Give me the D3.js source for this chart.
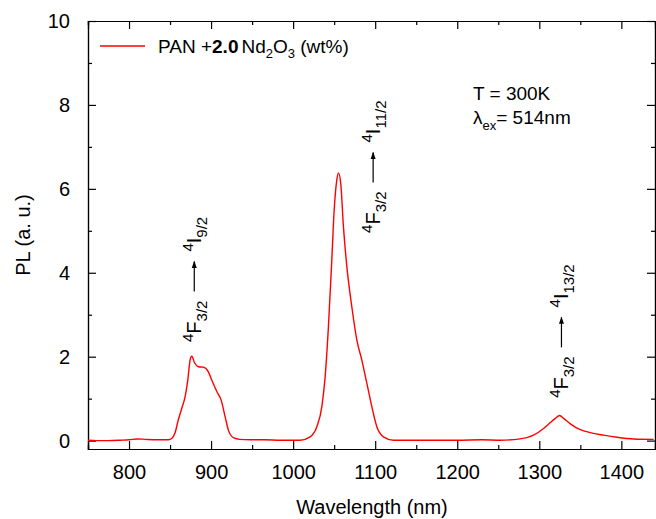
<!DOCTYPE html>
<html>
<head>
<meta charset="utf-8">
<script src="https://d3js.org/d3.v7.min.js"></script>
<style>
  body { margin: 0; background: #fff; }
  svg text { font-family: "Liberation Sans", Arial, sans-serif; fill: #000; }
  .axis path, .axis line { stroke: #000; stroke-width: 1.2px; }
  .spectrum { fill: none; stroke: #ff0000; stroke-width: 1.4px; }
</style>
</head>
<body>
<svg id="chart" width="656" height="519"></svg>
<script>
// ---- data ----
const wavelength = [750, 760, 775, 790, 800, 810, 820, 835, 848, 852, 856, 860, 864.3, 868.3, 871.6, 874.4, 876.5, 880,
  884.5, 890.6, 896.7, 900.9, 907, 912.2, 917.1, 921.1, 927.2, 935, 947.6, 965, 985, 1008.5, 1020.7, 1028.9,
  1035, 1039, 1043, 1047.1, 1050, 1053.2, 1055.2, 1058, 1061.3, 1065.5, 1071.5, 1077.6, 1083.7, 1089.8,
  1095.9, 1102, 1110.1, 1122.3, 1150, 1200, 1230, 1252.4, 1276.8, 1293, 1305.2, 1313.4, 1319.5, 1324.8,
  1329.6, 1337.8, 1350, 1362.2, 1378.4, 1394.7, 1415, 1439.4];
const plIntensity = [0.01, 0.00, 0.00, 0.01, 0.02, 0.04, 0.03, 0.02, 0.02, 0.05, 0.18, 0.49, 0.77, 1.04, 1.44, 1.92, 2.01, 1.85,
  1.76, 1.75, 1.64, 1.44, 1.17, 0.97, 0.57, 0.25, 0.07, 0.03, 0.02, 0.02, 0.01, 0.01, 0.09, 0.33,
  0.81, 1.52, 2.71, 4.3, 5.49, 6.21, 6.38, 6.13, 5.1, 4.14, 3.19, 2.4, 1.92, 1.37,
  0.81, 0.33, 0.09, 0.01, 0.01, 0.01, 0.02, 0.01, 0.04, 0.13, 0.29, 0.43, 0.53, 0.6,
  0.53, 0.40, 0.26, 0.19, 0.13, 0.08, 0.04, 0.03];

const xMajorTicks = [800, 900, 1000, 1100, 1200, 1300, 1400];
const xMinorTicks = [750, 850, 950, 1050, 1150, 1250, 1350];
const yMajorTicks = [0, 2, 4, 6, 8, 10];
const yMinorTicks = [1, 3, 5, 7, 9];

// transition labels: [lower level, upper level], placed at nm / PL of the bottom of the label
const transitionLower = ["3/2", "3/2", "3/2"];
const transitionUpper = ["9/2", "11/2", "13/2"];
const transitionNm = [879.5, 1097.5, 1327];
const transitionPL = [2.35, 4.95, 1.02];

// ---- scales ----
const svg = d3.select("#chart");
const x = d3.scaleLinear().domain([750, 1441]).range([88, 655]);
const y = d3.scaleLinear().domain([-0.2, 10]).range([449, 21]);

// ---- axes (ticks point inward, mirrored on top/right) ----
const major = 8, minor = 4;
const addAxis = (axisFn, scale, ticks, size, tr, labels, pad) => {
  svg.append("g").attr("class", "axis").attr("transform", tr)
     .call(axisFn(scale).tickValues(ticks).tickSize(-size).tickPadding(pad)
           .tickFormat(labels ? d3.format("d") : ""))
     .call(g => g.selectAll("text").style("font-size", "20px"));
};
addAxis(d3.axisBottom, x, xMinorTicks, minor, "translate(0,449)", false, 0);
addAxis(d3.axisBottom, x, xMajorTicks, major, "translate(0,449)", true, 16);
addAxis(d3.axisTop, x, xMinorTicks, minor, "translate(0,21)", false, 0);
addAxis(d3.axisTop, x, xMajorTicks, major, "translate(0,21)", false, 0);
addAxis(d3.axisLeft, y, yMinorTicks, minor, "translate(88,0)", false, 0);
addAxis(d3.axisLeft, y, yMajorTicks, major, "translate(88,0)", true, 18);
addAxis(d3.axisRight, y, yMinorTicks, minor, "translate(655,0)", false, 0);
addAxis(d3.axisRight, y, yMajorTicks, major, "translate(655,0)", false, 0);

// axis titles
svg.append("text").attr("x", 372).attr("y", 514).attr("text-anchor", "middle")
   .style("font-size", "20px").text("Wavelength (nm)");
svg.append("text").attr("transform", "translate(30,235) rotate(-90)").attr("text-anchor", "middle")
   .style("font-size", "20px").text("PL (a. u.)");

// ---- spectrum ----
const points = wavelength.map((w, i) => [w, plIntensity[i]]);
svg.append("path").datum(points).attr("class", "spectrum")
   .attr("d", d3.line().x(d => x(d[0])).y(d => y(d[1])).curve(d3.curveMonotoneX));

// ---- legend ----
svg.append("line").attr("x1", 100).attr("x2", 145).attr("y1", 46).attr("y2", 46)
   .attr("stroke", "#ff0000").attr("stroke-width", 1.4);
const leg = svg.append("text").attr("x", 158).attr("y", 53).style("font-size", "19px");
leg.append("tspan").text("PAN +");
leg.append("tspan").style("font-weight", "bold").text("2.0");
leg.append("tspan").attr("dx", 3).text("Nd");
leg.append("tspan").attr("dy", 5).style("font-size", "13px").text("2");
leg.append("tspan").attr("dy", -5).text("O");
leg.append("tspan").attr("dy", 5).style("font-size", "13px").text("3");
leg.append("tspan").attr("dy", -5).text(" (wt%)");

// conditions
svg.append("text").attr("x", 473).attr("y", 100).style("font-size", "19px").text("T = 300K");
const lam = svg.append("text").attr("x", 473).attr("y", 124).style("font-size", "19px");
lam.append("tspan").text("λ");
lam.append("tspan").attr("dy", 6).style("font-size", "13px").text("ex");
lam.append("tspan").attr("dy", -6).text("= 514nm");

// ---- transition annotations (rotated) ----
svg.append("defs").append("marker").attr("id", "head")
   .attr("viewBox", "0 0 10 10").attr("refX", 9).attr("refY", 5)
   .attr("markerWidth", 7).attr("markerHeight", 6).attr("orient", "auto")
   .append("path").attr("d", "M0,1.5 L10,5 L0,8.5 Z").attr("fill", "#000");

const level = (g, xPos, term, sub) => {
  const t = g.append("text").attr("x", xPos).attr("y", 0).style("font-size", "20px");
  t.append("tspan").attr("dy", -8).style("font-size", "15px").text("4");
  t.append("tspan").attr("dy", 8).text(term);
  t.append("tspan").attr("dy", 6).style("font-size", "15px").text(sub);
  return t.node().getComputedTextLength();
};

transitionNm.forEach((nm, i) => {
  const g = svg.append("g")
     .attr("transform", `translate(${x(nm) + 7},${y(transitionPL[i])}) rotate(-90)`);
  const len = level(g, 0, "F", transitionLower[i]);
  const a0 = len + 9, a1 = a0 + 30;
  g.append("line").attr("x1", a0).attr("x2", a1).attr("y1", -7).attr("y2", -7)
   .attr("stroke", "#000").attr("stroke-width", 1.2).attr("marker-end", "url(#head)");
  level(g, a1 + 10, "I", transitionUpper[i]);
});
</script>
</body>
</html>
